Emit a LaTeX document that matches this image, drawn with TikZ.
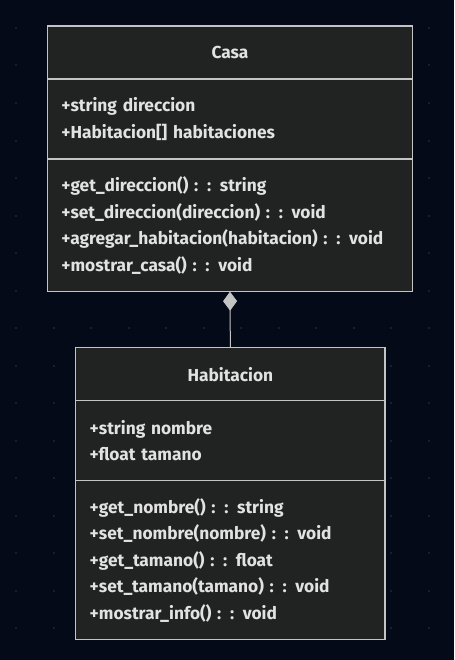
\documentclass[tikz,border=0pt]{standalone}
\usepackage{fontspec}
\setmainfont{Fira Sans}
\usetikzlibrary{positioning,arrows.meta}
\definecolor{fondo}{HTML}{050A19}
\definecolor{punto}{HTML}{1B1F2D}
\definecolor{relleno}{HTML}{212222}
\definecolor{borde}{HTML}{C4C4C4}
\definecolor{texto}{HTML}{E2E2E2}

\begin{document}
\begin{tikzpicture}[x=0.75pt,y=-0.75pt,
  caja/.style={draw=borde, line width=0.9pt, fill=relleno, text=texto,
    font=\bfseries\fontsize{13}{19.9}\selectfont, inner xsep=10.5pt, inner ysep=0pt,
    outer sep=0pt},
  titulo/.style={caja, minimum height=39.75pt, text width=#1, align=center},
  campos/.style={caja, minimum height=60pt, text width=#1, align=left},
  metodos/.style={caja, text width=#1, align=left},
  composicion/.style={draw=borde, line width=0.75pt,
    -{Diamond[length=14.25pt, width=10.5pt, fill=borde]}}]
  % fondo y bounding box
  \fill[fondo] (0,0) rectangle (454,660);
  % puntos
  \foreach \i in {0,...,11}
    \foreach \j in {0,...,16}
      \fill[punto] ({15+37.5*\i},{27+37.5*\j}) rectangle ++(2,2);
  % clase Casa
  \node[titulo=253pt, anchor=north] (casaTitulo) at (230,26) {Casa};
  \node[campos=253pt, below=0pt of casaTitulo] (casaCampos)
    {+string direccion\\+Habitacion[] habitaciones};
  \node[metodos=253pt, minimum height=99.5pt, below=0pt of casaCampos] (casaMetodos)
    {+get\_direccion() : : string\\+set\_direccion(direccion) : : void\\
     +agregar\_habitacion(habitacion) : : void\\+mostrar\_casa() : : void};
  % clase Habitacion
  \node[titulo=211pt, anchor=north] (habTitulo) at (230.35,347.7) {Habitacion};
  \node[campos=211pt, below=0pt of habTitulo] (habCampos)
    {+string nombre\\+float tamano};
  \node[metodos=211pt, minimum height=119.25pt, below=0pt of habCampos] (habMetodos)
    {+get\_nombre() : : string\\+set\_nombre(nombre) : : void\\+get\_tamano() : : float\\
     +set\_tamano(tamano) : : void\\+mostrar\_info() : : void};
  % composicion
  \draw[composicion] (habTitulo.north) -- (casaMetodos.south);
\end{tikzpicture}
\end{document}
